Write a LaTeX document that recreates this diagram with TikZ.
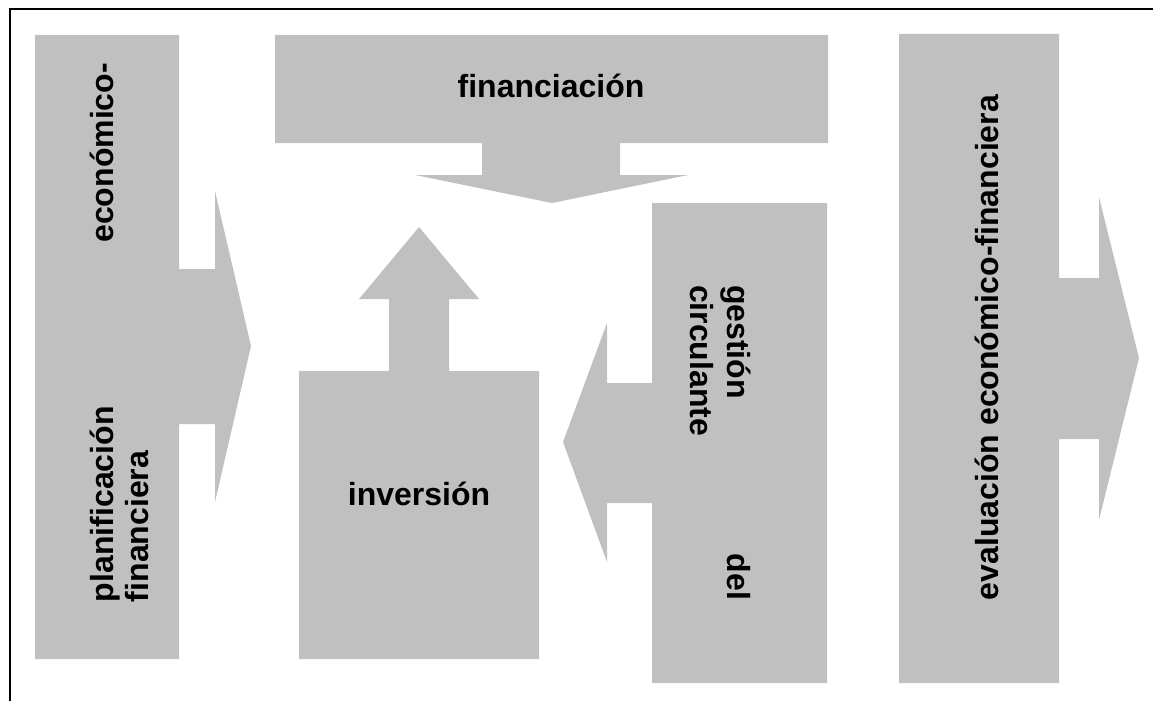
\documentclass[tikz,border=0pt]{standalone}
\usepackage{fontspec}
\setmainfont{Liberation Sans}
\definecolor{shapegray}{HTML}{C0C0C0}
\tikzset{
  block/.style={fill=shapegray, draw=none},
  lbl/.style={inner sep=0pt, outer sep=0pt, font=\fontsize{32}{37}\selectfont\bfseries},
}
\begin{document}
\begin{tikzpicture}[x=1pt, y=-1pt]
\useasboundingbox (0,0) rectangle (1153,701);

% frame
\draw[line width=2pt] (10,701) -- (10,9) -- (1153,9);

% planificación económico-financiera: bar with right arrow
\fill[block] (35,35) -- (179,35) -- (179,269) -- (215,269) -- (215,191)
  -- (251,346) -- (215,502) -- (215,424) -- (179,424) -- (179,659)
  -- (35,659) -- cycle;

% financiación: bar with down arrow
\fill[block] (275,35) -- (828,35) -- (828,143) -- (620,143) -- (620,175)
  -- (688,175) -- (552,203) -- (415,175) -- (482,175) -- (482,143)
  -- (275,143) -- cycle;

% inversión: box with up arrow
\fill[block] (299,659) -- (299,371) -- (389,371) -- (389,299) -- (359,299)
  -- (419,227) -- (479,299) -- (449,299) -- (449,371) -- (539,371)
  -- (539,659) -- cycle;

% gestión del circulante: bar with left arrow
\fill[block] (652,203) -- (827,203) -- (827,683) -- (652,683) -- (652,503)
  -- (607,503) -- (607,562) -- (563,442) -- (607,323) -- (607,383)
  -- (652,383) -- cycle;

% evaluación económico-financiera: bar with right arrow
\fill[block] (899,34) -- (1059,34) -- (1059,278) -- (1099,278) -- (1099,197)
  -- (1139,358) -- (1099,520) -- (1099,439) -- (1059,439) -- (1059,683)
  -- (899,683) -- cycle;

% labels
\node[lbl, rotate=90, anchor=base west] (plan1) at (113,602)
  {\makebox[539pt][s]{planificación económico-}};
\node[lbl, rotate=90, anchor=base west] (plan2) at (148,602) {financiera};

\node[lbl, anchor=base] (fin) at (551,97) {financiación};

\node[lbl, anchor=base] (inv) at (419,505) {inversión};

\node[lbl, rotate=-90, anchor=base west] (ges1) at (727,285)
  {\makebox[315pt][s]{gestión del}};
\node[lbl, rotate=-90, anchor=base west] (ges2) at (690,285) {circulante};

\node[lbl, rotate=90, anchor=base west] (eval) at (998,600)
  {evaluación económico-financiera};
\end{tikzpicture}
\end{document}
